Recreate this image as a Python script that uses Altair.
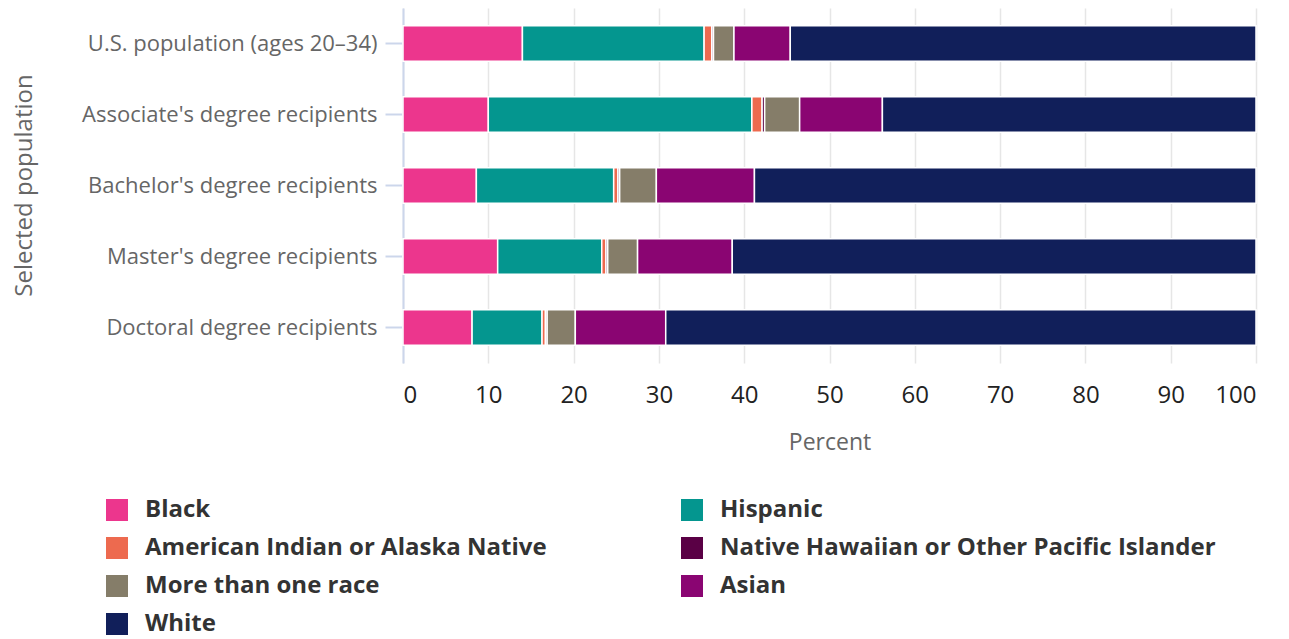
import altair as alt
import pandas as pd

populations = [
    "U.S. population (ages 20–34)",
    "Associate's degree recipients",
    "Bachelor's degree recipients",
    "Master's degree recipients",
    "Doctoral degree recipients",
]
groups = [
    "Black",
    "Hispanic",
    "American Indian or Alaska Native",
    "Native Hawaiian or Other Pacific Islander",
    "More than one race",
    "Asian",
    "White",
]
colors = ["#EC368D", "#04968F", "#ED6A4F", "#5A0045", "#857D69", "#8A0572", "#111F5A"]

black = [14.0, 10.0, 8.6, 11.1, 8.1]
hispanic = [21.3, 30.9, 16.1, 12.2, 8.2]
aian = [0.9, 1.2, 0.5, 0.5, 0.4]
nhpi = [0.2, 0.3, 0.2, 0.2, 0.2]
multi = [2.4, 4.1, 4.3, 3.5, 3.3]
asian = [6.6, 9.7, 11.5, 11.1, 10.6]
white = [54.6, 43.8, 58.8, 61.4, 69.2]

series = [black, hispanic, aian, nhpi, multi, asian, white]
rows = []
for gi, (g, vals) in enumerate(zip(groups, series)):
    for p, v in zip(populations, vals):
        rows.append({"population": p, "group": g, "value": v, "order": gi})
df = pd.DataFrame(rows)

# legend fills column by column: reorder so it reads row by row like the original
legend_order = [groups[i] for i in (0, 2, 4, 6, 1, 3, 5)]
legend_colors = [colors[i] for i in (0, 2, 4, 6, 1, 3, 5)]

chart = (
    alt.Chart(df)
    .mark_bar(stroke="white", strokeWidth=1.5)
    .encode(
        y=alt.Y(
            "population:N",
            sort=populations,
            title="Selected population",
            scale=alt.Scale(paddingInner=0.5, paddingOuter=0.25),
            axis=alt.Axis(
                labelFont="Open Sans",
                labelFontSize=22,
                labelColor="#666666",
                labelPadding=8,
                labelLimit=500,
                titleFont="Open Sans",
                titleFontSize=24,
                titleFontWeight="normal",
                titleColor="#666666",
                titleX=-367,
                titleY=177,
                titleAngle=270,
                titleAlign="center",
                titleBaseline="bottom",
                domainColor="#ccd6eb",
                domainWidth=2,
                tickColor="#ccd6eb",
                tickWidth=2,
                tickSize=18,
                grid=False,
            ),
        ),
        x=alt.X(
            "value:Q",
            stack="zero",
            title="Percent",
            scale=alt.Scale(domain=[0, 100], nice=False),
            axis=alt.Axis(
                values=list(range(0, 101, 10)),
                labelFont="Open Sans",
                labelFontSize=24,
                labelColor="#222222",
                labelPadding=20,
                titleFont="Open Sans",
                titleFontSize=23,
                titleFontWeight="normal",
                titleColor="#666666",
                titlePadding=24,
                domain=False,
                ticks=False,
                grid=True,
                gridColor="#e6e6e6",
                gridWidth=1.5,
            ),
        ),
        color=alt.Color(
            "group:N",
            scale=alt.Scale(domain=legend_order, range=legend_colors),
            legend=alt.Legend(
                title=None,
                orient="none",
                legendX=-298,
                legendY=490,
                columns=2,
                columnPadding=133,
                rowPadding=14,
                symbolType="square",
                symbolSize=484,
                symbolStrokeWidth=0,
                symbolOffset=0,
                labelOffset=16,
                labelFont="Open Sans",
                labelFontSize=24,
                labelFontWeight="bold",
                labelColor="#333333",
                labelLimit=700,
            ),
        ),
        order=alt.Order("order:Q"),
    )
    .properties(width=853, height=355, padding={"left": 4, "top": 0, "right": 5, "bottom": 5})
    .configure_view(stroke=None)
)

chart.save("out.html", embed_options={"renderer": "svg", "actions": False})
